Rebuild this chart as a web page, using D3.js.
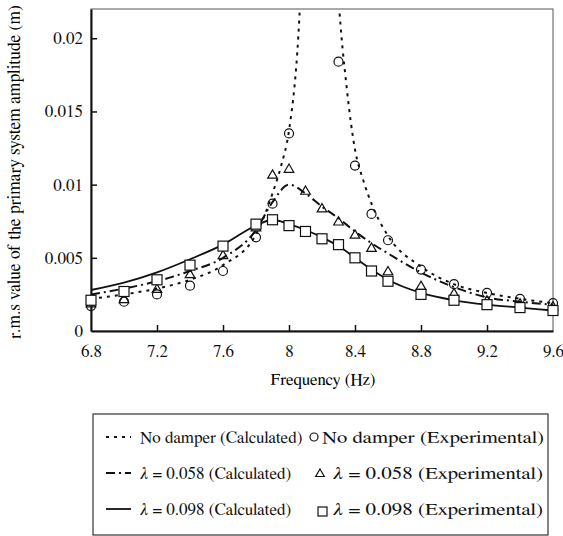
<!DOCTYPE html>
<html>
<head>
<meta charset="utf-8">
<script src="https://cdn.jsdelivr.net/npm/d3@7"></script>
</head>
<body style="margin:0;background:#fff">
<svg id="chart" width="563" height="536"></svg>
<script>
// experimental frequencies (Hz)
const freqExp = [6.8, 7.0, 7.2, 7.4, 7.6, 7.8, 7.9, 8.0, 8.1, 8.2, 8.3, 8.4, 8.5, 8.6, 8.8, 9.0, 9.2, 9.4, 9.6];
const noDamperFreq = [6.8, 7.0, 7.2, 7.4, 7.6, 7.8, 7.9, 8.0, 8.3, 8.4, 8.5, 8.6, 8.8, 9.0, 9.2, 9.4, 9.6];

// experimental values (m)
const noDamperExp = [0.0017, 0.0020, 0.0025, 0.0031, 0.0041, 0.0064, 0.0087, 0.0135, 0.0184, 0.0113, 0.0080, 0.0062, 0.0042, 0.0032, 0.0026, 0.0022, 0.0019];
const lam058Exp = [0.0019, 0.0022, 0.0029, 0.0039, 0.0052, 0.0071, 0.0107, 0.0111, 0.0096, 0.0084, 0.0075, 0.0066, 0.0057, 0.0041, 0.0031, 0.0026, 0.0021, 0.0019, 0.0017];
const lam098Exp = [0.0021, 0.0027, 0.0035, 0.0045, 0.0058, 0.0073, 0.0076, 0.0072, 0.0068, 0.0063, 0.0059, 0.0050, 0.0041, 0.0034, 0.0025, 0.0021, 0.0018, 0.0016, 0.0014];

// calculated curves
const noDamperCalcFreq = [6.8, 7.0, 7.2, 7.4, 7.6, 7.8, 7.9, 7.95, 8.0, 8.05, 8.1, 8.2, 8.3, 8.35, 8.4, 8.45, 8.5, 8.6, 8.8, 9.0, 9.2, 9.4, 9.6];
const noDamperCalc = [0.0022, 0.0025, 0.0029, 0.0035, 0.0045, 0.0066, 0.0094, 0.0112, 0.0137, 0.0190, 0.0300, 0.0500, 0.0228, 0.0166, 0.0124, 0.0103, 0.0087, 0.0065, 0.0044, 0.0032, 0.0026, 0.0022, 0.0019];
const lam058Calc = [0.0025, 0.0029, 0.0034, 0.0041, 0.0050, 0.0069, 0.0088, 0.0100, 0.0094, 0.0085, 0.0077, 0.0068, 0.0060, 0.0053, 0.0040, 0.0030, 0.0023, 0.0020, 0.0018];
const lam098Calc = [0.0028, 0.0033, 0.0040, 0.0049, 0.0059, 0.0072, 0.0076, 0.0073, 0.0069, 0.0064, 0.0058, 0.0050, 0.0042, 0.0035, 0.0026, 0.0021, 0.0018, 0.0016, 0.0014];

const xTicks = [6.8, 7.2, 7.6, 8.0, 8.4, 8.8, 9.2, 9.6];
const yTicks = [0, 0.005, 0.01, 0.015, 0.02];

const serif = '"FreeSerif", "Liberation Serif", serif';
const fontSize = 17;

const margin = {top: 9, right: 10, bottom: 205, left: 91};
const width = 563 - margin.left - margin.right;
const height = 536 - margin.top - margin.bottom;

const svg = d3.select('#chart');
const chart = svg.append('g').attr('transform', `translate(${margin.left},${margin.top})`);

const x = d3.scaleLinear().domain([6.8, 9.6]).range([0, width]);
const y = d3.scaleLinear().domain([0, 0.022]).range([height, 0]);

chart.append('clipPath').attr('id', 'plotClip')
  .append('rect').attr('width', width).attr('height', height);

// frame (top and right thin)
chart.append('rect')
  .attr('width', width).attr('height', height)
  .attr('fill', 'none').attr('stroke', '#555').attr('stroke-width', 1);

// axes with inward ticks
const xAxis = chart.append('g').attr('transform', `translate(0,${height})`)
  .call(d3.axisBottom(x).tickValues(xTicks).tickSizeInner(-6).tickSizeOuter(0).tickPadding(14)
    .tickFormat(d => d === 8 ? '8' : d3.format('.1f')(d)));
const yAxis = chart.append('g')
  .call(d3.axisLeft(y).tickValues(yTicks).tickSizeInner(-6).tickSizeOuter(0).tickPadding(8)
    .tickFormat(d => d === 0 ? '0' : String(+d.toFixed(3))));

[xAxis, yAxis].forEach(a => {
  a.select('.domain').attr('stroke', '#111').attr('stroke-width', 2);
  a.selectAll('.tick line').attr('stroke', '#111').attr('stroke-width', 1.5);
  a.selectAll('.tick text').attr('font-size', fontSize).style('font-family', serif).attr('fill', '#111');
});
xAxis.selectAll('.tick line').filter(d => d === 6.8 || d === 9.6).remove();
yAxis.selectAll('.tick line').filter(d => d === 0).remove();

// axis titles
svg.append('text')
  .attr('x', margin.left + width / 2 + 1).attr('y', 385)
  .attr('text-anchor', 'middle').attr('font-size', fontSize).style('font-family', serif)
  .text('Frequency (Hz)');
svg.append('text')
  .attr('transform', `translate(20,172) rotate(-90)`)
  .attr('text-anchor', 'middle').attr('font-size', 17.5).style('font-family', serif)
  .text('r.m.s value of the primary system amplitude (m)');

// calculated lines
const plot = chart.append('g').attr('clip-path', 'url(#plotClip)');
const line = d3.line().x(d => x(d[0])).y(d => y(d[1])).curve(d3.curveMonotoneX);

const calcSeries = [
  {f: noDamperCalcFreq, v: noDamperCalc, dash: '3,5', w: 2},
  {f: freqExp, v: lam058Calc, dash: '9,4,2,4', w: 2},
  {f: freqExp, v: lam098Calc, dash: null, w: 1.8}
];
calcSeries.forEach(s => {
  plot.append('path')
    .datum(d3.zip(s.f, s.v))
    .attr('d', line)
    .attr('fill', 'none')
    .attr('stroke', '#111')
    .attr('stroke-width', s.w)
    .attr('stroke-dasharray', s.dash);
});

// experimental markers
const triPath = d3.symbol().type(d3.symbolTriangle).size(40);
const marks = chart.append('g');
marks.selectAll('circle.nd')
  .data(d3.zip(noDamperFreq, noDamperExp))
  .enter().append('circle')
    .attr('class', 'nd')
    .attr('cx', d => x(d[0])).attr('cy', d => y(d[1])).attr('r', 4.5)
    .attr('fill', 'none').attr('stroke', '#111').attr('stroke-width', 1.2);
marks.selectAll('path.tri')
  .data(d3.zip(freqExp, lam058Exp))
  .enter().append('path')
    .attr('class', 'tri')
    .attr('d', triPath)
    .attr('transform', d => `translate(${x(d[0])},${y(d[1]) + 1})`)
    .attr('fill', 'none').attr('stroke', '#111').attr('stroke-width', 1.2);
marks.selectAll('rect.sq')
  .data(d3.zip(freqExp, lam098Exp))
  .enter().append('rect')
    .attr('class', 'sq')
    .attr('x', d => x(d[0]) - 5).attr('y', d => y(d[1]) - 5)
    .attr('width', 10).attr('height', 10)
    .attr('fill', '#fff').attr('stroke', '#111').attr('stroke-width', 1.2);

// legend
const legend = svg.append('g');
legend.append('rect')
  .attr('x', 93).attr('y', 414).attr('width', 455).attr('height', 121)
  .attr('fill', 'none').attr('stroke', '#333').attr('stroke-width', 1.2);

const rowsY = [437, 473, 509];
const calcNames = [null, '0.058', '0.098'];
calcSeries.forEach((s, i) => {
  legend.append('line')
    .attr('x1', 106).attr('x2', 131).attr('y1', rowsY[i]).attr('y2', rowsY[i])
    .attr('stroke', '#111').attr('stroke-width', s.w)
    .attr('stroke-dasharray', s.dash);
});

function legendText(xPos, yPos, lam, suffix, len) {
  const t = legend.append('text').attr('x', xPos).attr('y', yPos + 6)
    .attr('font-size', fontSize).style('font-family', serif).attr('fill', '#111');
  if (lam === null) {
    t.text('No damper ' + suffix);
  } else {
    t.append('tspan').attr('font-style', 'italic').text('λ');
    t.append('tspan').text(` = ${lam} ${suffix}`);
  }
  // the experimental column is set wider in the original
  if (len) t.attr('textLength', len).attr('lengthAdjust', 'spacingAndGlyphs');
}
calcNames.forEach((n, i) => legendText(140, rowsY[i], n, '(Calculated)'));

legend.append('circle').attr('cx', 314).attr('cy', rowsY[0]).attr('r', 4)
  .attr('fill', 'none').attr('stroke', '#111').attr('stroke-width', 1.2);
legend.append('path').attr('d', d3.symbol().type(d3.symbolTriangle).size(32))
  .attr('transform', `translate(320,${rowsY[1] + 1})`)
  .attr('fill', 'none').attr('stroke', '#111').attr('stroke-width', 1.2);
legend.append('rect').attr('x', 318).attr('y', rowsY[2] - 2).attr('width', 9).attr('height', 9)
  .attr('fill', 'none').attr('stroke', '#111').attr('stroke-width', 1.2);

legendText(322, rowsY[0], null, '(Experimental)', 222);
legendText(333, rowsY[1], '0.058', '(Experimental)', 210);
legendText(333, rowsY[2], '0.098', '(Experimental)', 210);
</script>
</body>
</html>
